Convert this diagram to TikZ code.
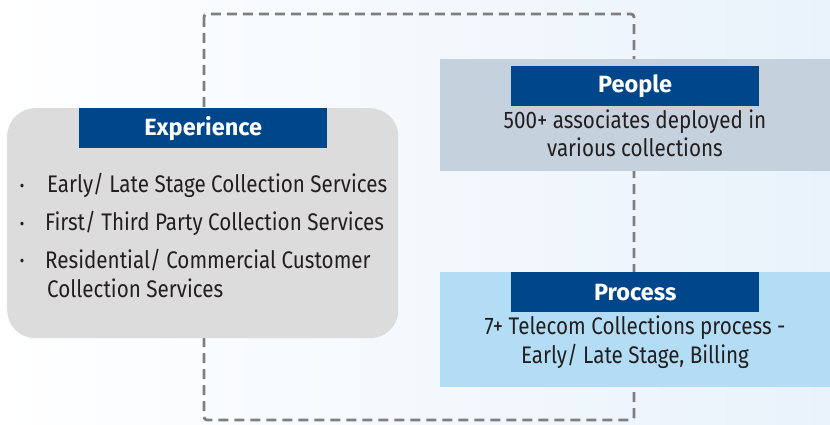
\documentclass[tikz,border=0pt]{standalone}
\usepackage{fontspec}
\setmainfont{Fira Sans}[FakeStretch=0.86]
\newfontfamily\headfont{Fira Sans}

\definecolor{hdrblue}{HTML}{00468B}
\definecolor{expgray}{HTML}{DCDCDC}
\definecolor{pplgray}{HTML}{C5D1DC}
\definecolor{procblue}{HTML}{B3DDF4}
\definecolor{txtdark}{HTML}{231F20}
\definecolor{bgblue}{HTML}{E9F2FB}
\definecolor{dashgray}{HTML}{7F7F7F}

\tikzset{
  card/.style={draw=none, anchor=north west, inner sep=0pt, minimum width=390pt},
  header/.style={fill=hdrblue, text=white, anchor=north west, inner sep=0pt,
    minimum width=248pt, minimum height=40pt,
    font=\headfont\bfseries\fontsize{23.5}{27}\selectfont},
  body/.style={text=txtdark, inner sep=0pt, font=\fontsize{24}{28}\selectfont},
  dot/.style={text=txtdark, inner sep=0pt, font=\fontsize{16}{18}\selectfont},
  loopline/.style={draw=dashgray, line width=2.8pt, dash pattern=on 10pt off 6pt}
}

\begin{document}
\begin{tikzpicture}[x=1pt, y=-1pt]
\useasboundingbox (0,0) rectangle (830,425);
\fill[left color=white, right color=bgblue] (0,0) rectangle (830,425);

% dashed loop behind the cards
\coordinate (looptl) at (204,14);
\coordinate (loopbr) at (634,420);
\draw[loopline, rounded corners=3pt] (looptl) rectangle (loopbr);

% experience
\node[card, fill=expgray, rounded corners=28pt, minimum width=391pt, minimum height=230pt] (expbox) at (7,108) {};
\node[header] (exphead) at (79,108) {Experience};
\node[dot, anchor=base] (b1) at (22,191.5) {\textbullet};
\node[dot, anchor=base] (b2) at (22,229.5) {\textbullet};
\node[dot, anchor=base] (b3) at (22,266.5) {\textbullet};
\node[body, anchor=base west] (exp1) at (47,192) {Early/ Late Stage Collection Services};
\node[body, anchor=base west] (exp2) at (45,230) {First/ Third Party Collection Services};
\node[body, anchor=base west] (exp3) at (45,268) {Residential/ Commercial Customer};
\node[body, anchor=base west] (exp3b) at (47,297) {Collection Services};

% people
\node[card, fill=pplgray, minimum height=112pt] (pplbox) at (440,59) {};
\node[header] (pplhead) at (511,66) {People};
\node[body, anchor=base] (ppl1) at (635,129) {500+ associates deployed in};
\node[body, anchor=base] (ppl2) at (635,157) {various collections};

% process
\node[card, fill=procblue, minimum height=115pt] (procbox) at (440,272) {};
\node[header] (prochead) at (511,272) {Process};
\node[body, anchor=base] (proc1) at (635,334) {7+ Telecom Collections process -};
\node[body, anchor=base] (proc2) at (635,363) {Early/ Late Stage, Billing};
\end{tikzpicture}
\end{document}
